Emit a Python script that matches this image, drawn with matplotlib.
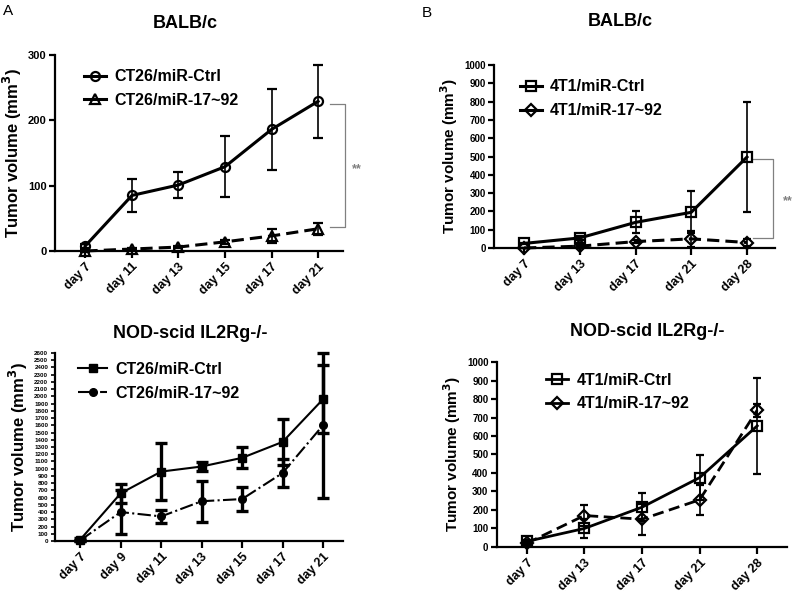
import numpy as np
import matplotlib
matplotlib.use('Agg')
import matplotlib.pyplot as plt
from matplotlib.lines import Line2D

plt.rcParams['font.family'] = ['Liberation Sans', 'DejaVu Sans']
plt.rcParams['font.weight'] = 'bold'

#### Datos panel A (BALB/c, CT26) ####
dias_a1 = ['day 7', 'day 11', 'day 13', 'day 15', 'day 17', 'day 21']
ct26_ctrl = [8, 85, 101, 129, 186, 229]
ct26_ctrl_err = [3, 25, 20, 47, 62, 56]
ct26_mir = [0, 3, 6, 14, 23, 34]
ct26_mir_err = [1, 2, 2, 3, 11, 9]

#### Datos panel A (NOD-scid, CT26) ####
dias_a2 = ['day 7', 'day 9', 'day 11', 'day 13', 'day 15', 'day 17', 'day 21']
nod_ct26_ctrl = [20, 660, 960, 1030, 1150, 1370, 1960]
nod_ct26_ctrl_err = [20, 130, 390, 60, 145, 320, 470]
nod_ct26_mir = [10, 400, 340, 550, 580, 940, 1600]
nod_ct26_mir_err = [10, 300, 90, 285, 160, 200, 1000]

#### Datos panel B (BALB/c, 4T1) ####
dias_b1 = ['day 7', 'day 13', 'day 17', 'day 21', 'day 28']
t41_ctrl = [25, 55, 140, 195, 497]
t41_ctrl_err = [5, 10, 60, 115, 300]
t41_mir = [0, 10, 35, 50, 30]
t41_mir_err = [2, 5, 10, 45, 20]

#### Datos panel B (NOD-scid, 4T1) ####
dias_b2 = ['day 7', 'day 13', 'day 17', 'day 21', 'day 28']
nod_t41_ctrl = [30, 100, 215, 375, 655]
nod_t41_ctrl_err = [10, 50, 75, 120, 260]
nod_t41_mir = [20, 170, 150, 255, 740]
nod_t41_mir_err = [10, 55, 85, 80, 35]

fig = plt.figure(figsize=(8, 5.97), dpi=100)


def estilo(ax, dias, ylim, step, xlim, ysize, ylabsize):
    ax.set_xlim(*xlim)
    ax.set_ylim(0, ylim)
    ax.set_yticks(np.arange(0, ylim + 1, step))
    ax.set_xticks(range(len(dias)))
    ax.set_xticklabels(dias, rotation=45, ha='right', rotation_mode='anchor',
                       fontsize=9, fontweight='bold')
    for lab in ax.get_yticklabels():
        lab.set_fontsize(ysize)
        lab.set_fontweight('bold')
    ax.spines['top'].set_visible(False)
    ax.spines['right'].set_visible(False)
    ax.spines['left'].set_linewidth(1.6)
    ax.spines['bottom'].set_linewidth(1.6)
    ax.tick_params(width=1.6, length=4, pad=2)
    ax.tick_params(axis='x', length=5)
    ax.set_ylabel('Tumor volume (mm$^\\mathbf{3}$)', fontsize=ylabsize,
                  fontweight='bold', labelpad=3)


def leyenda(ax, estilos, etiquetas, anchor, hl):
    handles = [Line2D([], [], color='black', **e) for e in estilos]
    ax.legend(handles, etiquetas, loc='upper left', bbox_to_anchor=anchor, frameon=False,
              handlelength=hl, handletextpad=0.5, prop={'weight': 'bold', 'size': 11.5},
              labelspacing=0.55)


#### A arriba ####
ax1 = fig.add_axes([0.069, 0.5796, 0.36, 0.3284])
x = np.arange(len(dias_a1))
s1 = dict(lw=2.2, ls='-', marker='o', ms=6.5, mfc='none', mew=1.6)
s2 = dict(lw=2.2, ls=(0, (4, 2)), marker='^', ms=6.5, mfc='none', mew=1.6)
ax1.errorbar(x, ct26_ctrl, yerr=ct26_ctrl_err, color='black', capsize=3.5, elinewidth=1.2,
             capthick=1.2, clip_on=False, **s1)
ax1.errorbar(x, ct26_mir, yerr=ct26_mir_err, color='black', capsize=3.5, elinewidth=1.2,
             capthick=1.2, clip_on=False, **s2)
estilo(ax1, dias_a1, 300, 100, (-0.65, 5.54), 8, 12)
leyenda(ax1, [s1, dict(s2, ls='-')], ['CT26/miR-Ctrl', 'CT26/miR-17~92'], (0.05, 1.0), 1.4)
# corchete de significancia
xb = 5.58
ax1.plot([5.25, xb, xb, 5.25], [ct26_ctrl[-1] - 4, ct26_ctrl[-1] - 4, ct26_mir[-1] + 2, ct26_mir[-1] + 2],
         color='gray', lw=0.9, clip_on=False)
ax1.text(5.83, 125, '**', color='gray', fontsize=9, ha='center', va='center')

#### B arriba ####
ax2 = fig.add_axes([0.6175, 0.5846, 0.351, 0.3065])
x = np.arange(len(dias_b1))
s1 = dict(lw=2.2, ls='-', marker='s', ms=6.5, mfc='none', mew=1.6)
s2 = dict(lw=2.2, ls=(0, (4, 2)), marker='D', ms=6, mfc='none', mew=1.6)
ax2.errorbar(x, t41_ctrl, yerr=t41_ctrl_err, color='black', capsize=3, elinewidth=1.2,
             capthick=1.2, clip_on=False, **s1)
ax2.errorbar(x, t41_mir, yerr=t41_mir_err, color='black', capsize=3, elinewidth=1.2,
             capthick=1.2, clip_on=False, **s2)
estilo(ax2, dias_b1, 1000, 100, (-0.54, 4.5), 7, 11)
leyenda(ax2, [s1, dict(s2, ls='-')], ['4T1/miR-Ctrl', '4T1/miR-17~92'], (0.04, 1.0), 1.4)
xb = 4.465
ax2.plot([4.1, xb, xb, 4.1], [t41_ctrl[-1] - 12, t41_ctrl[-1] - 12, t41_mir[-1] + 25, t41_mir[-1] + 25],
         color='gray', lw=0.9, clip_on=False)
ax2.text(4.73, 255, '**', color='gray', fontsize=9, ha='center', va='center')

#### A abajo ####
ax3 = fig.add_axes([0.069, 0.0938, 0.36, 0.3149])
x = np.arange(len(dias_a2))
s1 = dict(lw=1.5, ls='-', marker='s', ms=5.5)
s2 = dict(lw=1.5, ls='-.', marker='o', ms=5.5)
ax3.errorbar(x, nod_ct26_ctrl, yerr=nod_ct26_ctrl_err, color='black', capsize=4, elinewidth=2.4,
             capthick=2.4, clip_on=False, **s1)
ax3.errorbar(x, nod_ct26_mir, yerr=nod_ct26_mir_err, color='black', capsize=4, elinewidth=2.4,
             capthick=2.4, clip_on=False, **s2)
estilo(ax3, dias_a2, 2600, 100, (-0.62, 6.5), 4.5, 12)
ax3.tick_params(axis='y', length=3, width=1.2)
leyenda(ax3, [s1, s2], ['CT26/miR-Ctrl', 'CT26/miR-17~92'], (0.03, 1.03), 1.8)

#### B abajo ####
ax4 = fig.add_axes([0.621, 0.0838, 0.363, 0.3098])
x = np.arange(len(dias_b2))
s1 = dict(lw=2.0, ls='-', marker='s', ms=6.5, mfc='none', mew=1.6)
s2 = dict(lw=2.0, ls=(0, (4, 2)), marker='D', ms=6, mfc='none', mew=1.6)
ax4.errorbar(x, nod_t41_ctrl, yerr=nod_t41_ctrl_err, color='black', capsize=3, elinewidth=1.2,
             capthick=1.2, clip_on=False, **s1)
ax4.errorbar(x, nod_t41_mir, yerr=nod_t41_mir_err, color='black', capsize=3, elinewidth=1.2,
             capthick=1.2, clip_on=False, **s2)
estilo(ax4, dias_b2, 1000, 100, (-0.52, 4.52), 7, 11)
leyenda(ax4, [s1, dict(s2, ls='-')], ['4T1/miR-Ctrl', '4T1/miR-17~92'], (0.12, 1.02), 1.4)

#### Titulos y letras ####
fig.text(185 / 800, 1 - 23 / 597, 'BALB/c', fontsize=13, fontweight='bold', ha='center', va='center')
fig.text(620 / 800, 1 - 22 / 597, 'BALB/c', fontsize=13, fontweight='bold', ha='center', va='center')
fig.text(190 / 800, 1 - 333 / 597, 'NOD-scid IL2Rg-/-', fontsize=13, fontweight='bold', ha='center', va='center')
fig.text(647 / 800, 1 - 332 / 597, 'NOD-scid IL2Rg-/-', fontsize=13, fontweight='bold', ha='center', va='center')
fig.text(8 / 800, 1 - 11 / 597, 'A', fontsize=11, fontweight='normal', ha='center', va='center')
fig.text(427 / 800, 1 - 13 / 597, 'B', fontsize=11, fontweight='normal', ha='center', va='center')

plt.savefig('out.png', dpi=100)
plt.close()
